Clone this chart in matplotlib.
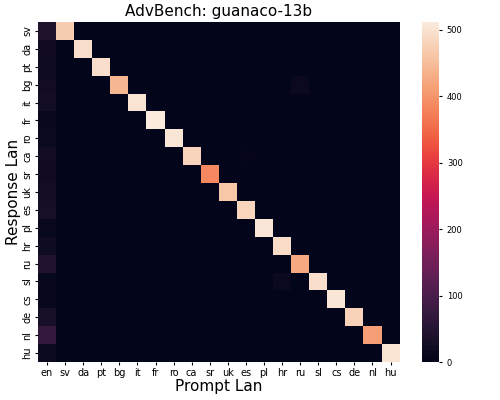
import numpy as np
import matplotlib
matplotlib.use("Agg")
import matplotlib.pyplot as plt
import seaborn as sns

prompt_langs = ["en", "sv", "da", "pt", "bg", "it", "fr", "ro", "ca", "sr",
                "uk", "es", "pl", "hr", "ru", "sl", "cs", "de", "nl", "hu"]
response_langs = ["sv", "da", "pt", "bg", "it", "fr", "ro", "ca", "sr", "uk",
                  "es", "pl", "hr", "ru", "sl", "cs", "de", "nl", "hu"]

# diagonal: response language == prompt language
diag_values = [470, 495, 495, 440, 500, 512, 505, 480, 385, 462,
               482, 505, 492, 425, 495, 505, 478, 410, 500]
# responses counted in the "en" prompt column
en_values = [40, 20, 18, 22, 25, 10, 14, 22, 20, 25,
             30, 10, 18, 45, 8, 8, 30, 70, 15]
# sparse off-diagonal cells: (response, prompt, value)
extra_cells = [("bg", "ru", 12), ("sl", "hr", 12), ("ca", "es", 4)]

data = np.zeros((len(response_langs), len(prompt_langs)))
for i, r in enumerate(response_langs):
    data[i, prompt_langs.index(r)] = diag_values[i]
    data[i, 0] = en_values[i]
for r, p, v in extra_cells:
    data[response_langs.index(r), prompt_langs.index(p)] = v

fig, ax = plt.subplots(figsize=(5, 4), dpi=100)
sns.heatmap(data, ax=ax, cmap="rocket", vmin=0,
            xticklabels=prompt_langs, yticklabels=response_langs,
            cbar_kws={"ticks": [0, 100, 200, 300, 400, 500], "pad": 0.05})
ax.set_title("AdvBench: guanaco-13b", fontsize=11, pad=4)
ax.set_xlabel("Prompt Lan", fontsize=11, labelpad=1)
ax.set_ylabel("Response Lan", fontsize=11, labelpad=1)
ax.tick_params(axis="both", labelsize=7, length=2, pad=2)
cbar = ax.collections[0].colorbar
cbar.ax.tick_params(labelsize=6, length=2)
cbar.outline.set_visible(False)
plt.setp(ax.get_yticklabels(), rotation=90, va="center")
plt.setp(ax.get_xticklabels(), rotation=0)
fig.subplots_adjust(left=0.076, right=0.98, top=0.945, bottom=0.095)
fig.savefig("out.png", dpi=100)
